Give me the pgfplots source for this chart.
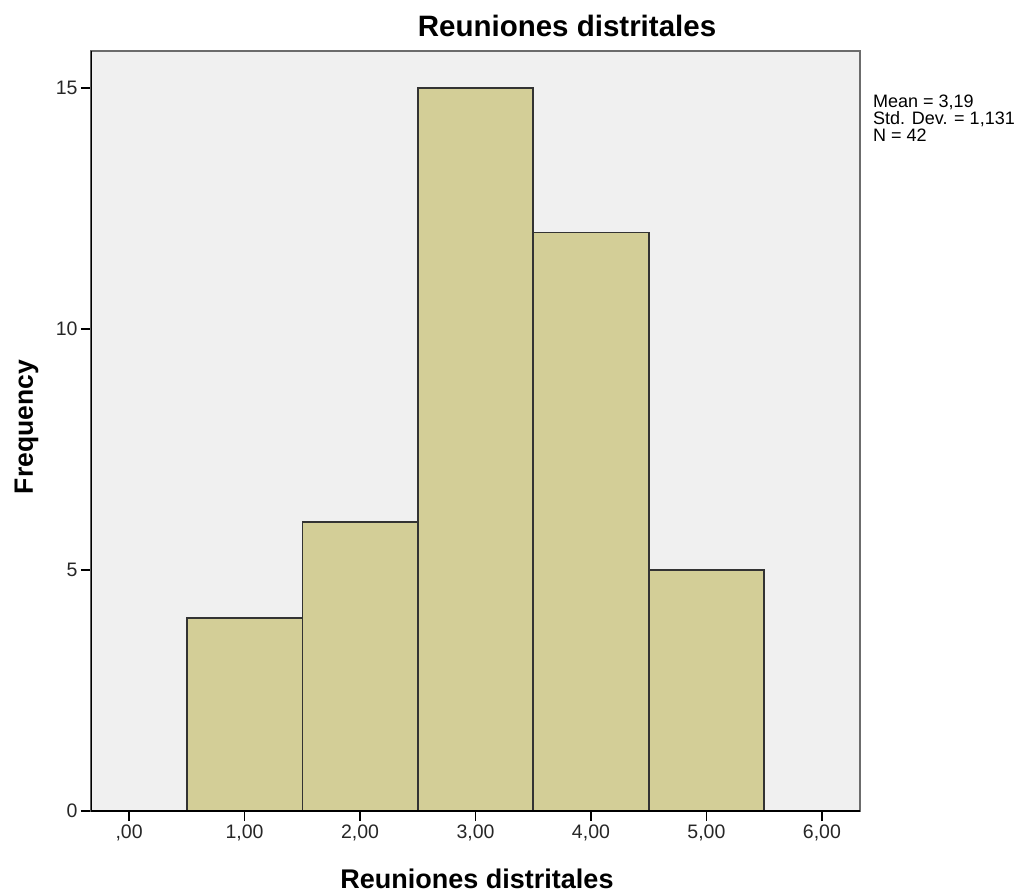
\documentclass[border=0pt]{standalone}
\usepackage{fontspec}
\setmainfont{Liberation Sans}
\usepackage{pgfplots}
\pgfplotsset{compat=1.18}
\definecolor{barfill}{RGB}{211,206,151}
\definecolor{plotbg}{RGB}{240,240,240}
\begin{document}
\begin{tikzpicture}
\useasboundingbox (-91bp,-85bp) rectangle (940bp,811bp);
\begin{axis}[
  at={(0,0)}, anchor=south west,
  scale only axis, width=769bp, height=760bp,
  xmin=-0.33, xmax=6.33, ymin=0, ymax=15.77,
  axis background/.style={fill=plotbg},
  axis line style={draw=gray!85!black, line width=1.4bp},
  xtick={0,1,2,3,4,5,6},
  xticklabels={{,00},{1,00},{2,00},{3,00},{4,00},{5,00},{6,00}},
  ytick={0,5,10,15},
  xtick pos=bottom, ytick pos=left,
  tick align=outside,
  major tick length=10bp,
  tick style={black, line width=1.4bp},
  tick label style={font=\fontsize{19.5bp}{22bp}\selectfont, text=black!85},
  /pgf/number format/assume math mode=true,
]
\addplot[ybar interval, fill=barfill, draw=black!80, line width=1.6bp]
  coordinates {(0.5,4) (1.5,6) (2.5,15) (3.5,12) (4.5,5) (5.5,5)};
\draw[black, line width=1.4bp] (rel axis cs:0,1) -- (rel axis cs:0,0) -- (rel axis cs:1,0);
\end{axis}
\node[anchor=base, font=\bfseries\fontsize{29.5bp}{32bp}\selectfont] at (476bp,774bp) {Reuniones distritales};
\node[anchor=base, font=\bfseries\fontsize{27bp}{30bp}\selectfont] at (386bp,-77bp) {Reuniones distritales};
\node[rotate=90, anchor=base, font=\bfseries\fontsize{26.5bp}{30bp}\selectfont] at (-58bp,384bp) {Frequency};
\begin{scope}[every node/.style={anchor=base west, inner sep=0pt, font=\fontsize{18bp}{20bp}\selectfont}]
\node at (782bp,703bp) {Mean = 3,19};
\node at (782bp,686bp) {Std. Dev. = 1,131};
\node at (782bp,669bp) {N = 42};
\end{scope}
\end{tikzpicture}
\end{document}
